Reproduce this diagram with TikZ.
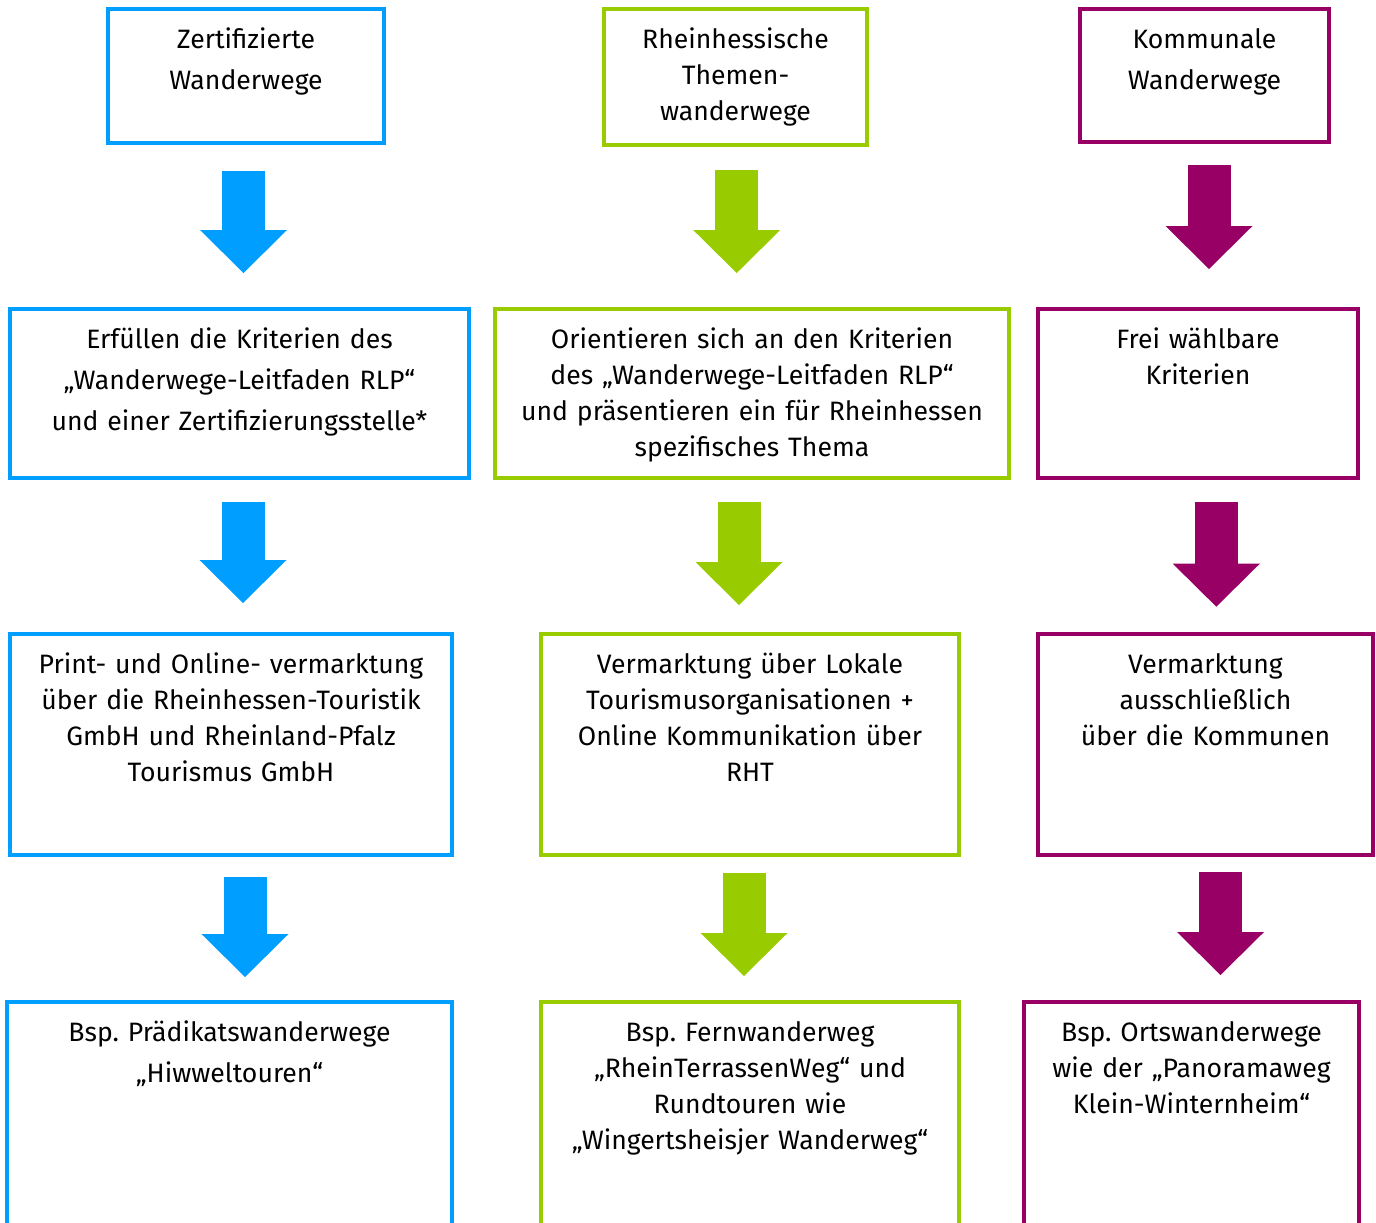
\documentclass[tikz,border=0pt]{standalone}
\usepackage{fontspec}
\setmainfont{Fira Sans}
\usetikzlibrary{positioning,arrows.meta}
\definecolor{wegblau}{HTML}{009EFF}
\definecolor{weggruen}{HTML}{99CC00}
\definecolor{weglila}{HTML}{990066}
\frenchspacing

\begin{document}
\begin{tikzpicture}[x=0.5pt, y=-0.5pt, font=\fontsize{13.3pt}{18pt}\selectfont,
   bx/.style={draw=#1, line width=2pt, anchor=north west, align=center, inner sep=0pt, text height=19.5pt},
   weit/.style={font=\fontsize{13.3pt}{20.5pt}\selectfont},
   pfeil/.style={line width=21.5pt, #1, -{Triangle[length=21.5pt, width=43.5pt, line width=0pt]}}]
  \useasboundingbox (0,0) rectangle (1376,1222);
  % Kopfzeile
  \node[bx=wegblau, weit, text width=138pt, text depth=47.5pt] (zert) at (106,7) {Zertifizierte\\Wanderwege};
  \node[bx=weggruen, text width=131.5pt, text depth=48.5pt] (thema) at (602,7) {Rheinhessische\\Themen-\\wanderwege};
  \node[bx=weglila, weit, text width=124.5pt, text depth=47pt] (komm) at (1078,7) {Kommunale\\Wanderwege};
  % Kriterien
  \node[bx=wegblau, weit, text width=229.5pt, text depth=65pt] (zertkrit) at (8,307) {Erfüllen die Kriterien des\\„Wanderwege-Leitfaden RLP“\\und einer Zertifizierungsstelle*};
  \node[bx=weggruen, text width=257pt, text depth=65pt] (themakrit) at (493,307) {Orientieren sich an den Kriterien\\des „Wanderwege-Leitfaden RLP“\\und präsentieren ein für Rheinhessen\\spezifisches Thema};
  \node[bx=weglila, text width=160pt, text depth=65pt] (kommkrit) at (1036,307) {Frei wählbare\\Kriterien};
  % Vermarktung
  \node[bx=wegblau, text width=221pt, text depth=91pt] (zertverm) at (8,632) {Print- und Online- vermarktung\\über die Rheinhessen-Touristik\\GmbH und Rheinland-Pfalz\\Tourismus GmbH};
  \node[bx=weggruen, text width=209pt, text depth=91pt] (themaverm) at (539,632) {Vermarktung über Lokale\\Tourismusorganisationen +\\Online Kommunikation über\\RHT};
  \node[bx=weglila, text width=167.5pt, text depth=91pt] (kommverm) at (1036,632) {Vermarktung\\ausschließlich\\über die Kommunen};
  % Beispiele
  \node[bx=wegblau, weit, text width=222.5pt, text depth=98.5pt] (zertbsp) at (5,1000) {Bsp. Prädikatswanderwege\\„Hiwweltouren“};
  \node[bx=weggruen, text width=209pt, text depth=98.5pt] (themabsp) at (539,1000) {Bsp. Fernwanderweg\\„RheinTerrassenWeg“ und\\Rundtouren wie\\„Wingertsheisjer Wanderweg“};
  \node[bx=weglila, text width=167.5pt, text depth=98.5pt] (kommbsp) at (1022,1000) {Bsp. Ortswanderwege\\wie der „Panoramaweg\\Klein-Winternheim“};
  % Pfeile
  \draw[pfeil=wegblau, shorten <=13pt, shorten >=17pt] ([xshift=-1.25pt]zert.south) -- ([xshift=2pt]zertkrit.north);
  \draw[pfeil=wegblau, shorten <=11pt, shorten >=14.5pt] ([xshift=1.75pt]zertkrit.south) -- ([xshift=6pt]zertverm.north);
  \draw[pfeil=wegblau, shorten <=10pt, shorten >=11.5pt] ([xshift=7pt]zertverm.south) -- ([xshift=7.75pt]zertbsp.north);
  \draw[pfeil=weggruen, shorten <=11.5pt, shorten >=17pt] ([xshift=0.6pt]thema.south) -- ([xshift=-7.65pt]themakrit.north);
  \draw[pfeil=weggruen, shorten <=11pt, shorten >=13.5pt] ([xshift=-6.5pt]themakrit.south) -- ([xshift=-5.5pt]themaverm.north);
  \draw[pfeil=weggruen, shorten <=8pt, shorten >=12pt] ([xshift=-3pt]themaverm.south) -- ([xshift=-3pt]themabsp.north);
  \draw[pfeil=weglila, shorten <=10.5pt, shorten >=19pt] ([xshift=2.25pt]komm.south) -- ([xshift=5.5pt]kommkrit.north);
  \draw[pfeil=weglila, shorten <=11pt, shorten >=12.65pt] ([xshift=9.15pt]kommkrit.south) -- ([xshift=5.4pt]kommverm.north);
  \draw[pfeil=weglila, shorten <=7.5pt, shorten >=12.5pt] ([xshift=7.5pt]kommverm.south) -- ([xshift=14.5pt]kommbsp.north);
\end{tikzpicture}
\end{document}
